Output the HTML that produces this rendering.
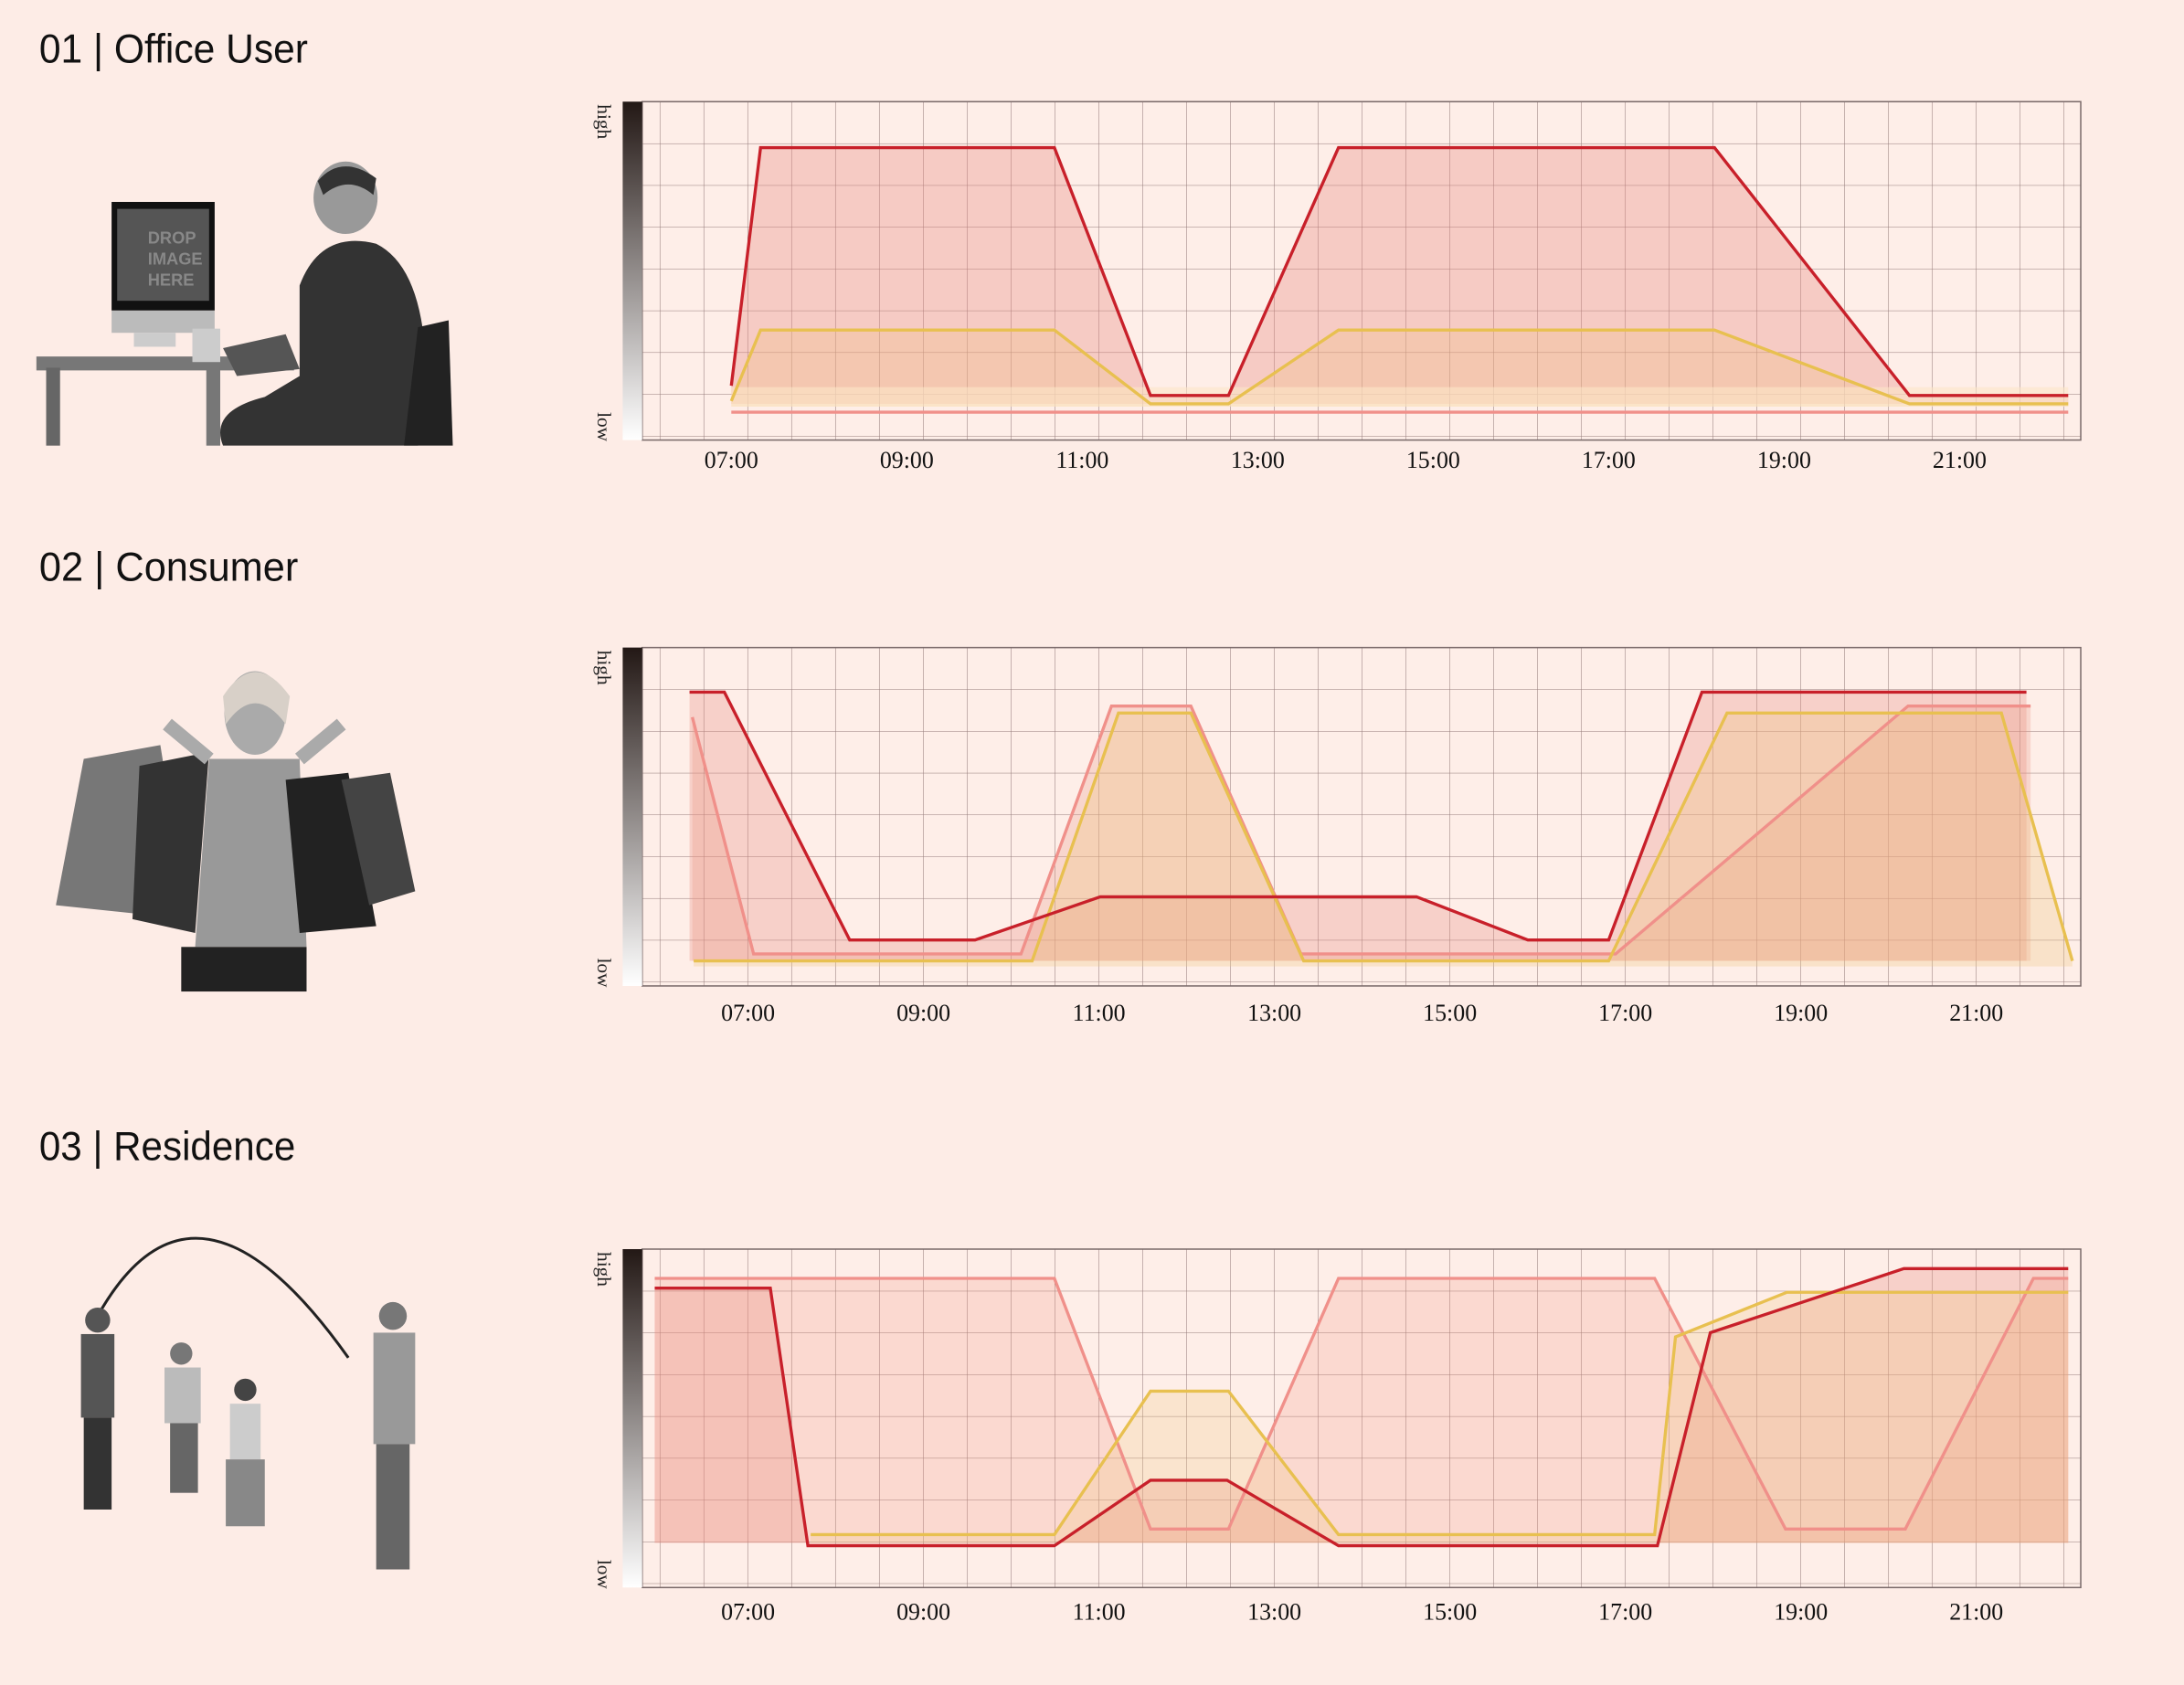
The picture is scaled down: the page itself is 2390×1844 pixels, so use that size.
<!DOCTYPE html>
<html><head><meta charset="utf-8"><style>
html,body{margin:0;padding:0;background:#fdece6;}
svg{display:block}
.t{font-family:"Liberation Sans Narrow","Liberation Sans",sans-serif;font-size:29px;fill:#111}
.tk{font-family:"Liberation Serif",serif;font-size:17px;fill:#111;text-anchor:middle}
.hl{font-family:"Liberation Serif",serif;font-size:14px;fill:#222}
</style></head><body>
<svg width="2390" height="1844" viewBox="0 0 1568 1210" xmlns="http://www.w3.org/2000/svg">
<defs>
<linearGradient id="gb" x1="0" y1="0" x2="0" y2="1"><stop offset="0" stop-color="#231815"/><stop offset="1" stop-color="#ffffff"/></linearGradient>
<pattern id="g1" patternUnits="userSpaceOnUse" x="473.6" y="73" width="31.5" height="30"><path d="M0 0V30M0 0H31.5" stroke="#7a5f5f" stroke-width="0.7" fill="none" opacity="0.8"/></pattern>
<pattern id="g2" patternUnits="userSpaceOnUse" x="473.6" y="465" width="31.5" height="30"><path d="M0 0V30M0 0H31.5" stroke="#7a5f5f" stroke-width="0.7" fill="none" opacity="0.8"/></pattern>
<pattern id="g3" patternUnits="userSpaceOnUse" x="473.6" y="897" width="31.5" height="30"><path d="M0 0V30M0 0H31.5" stroke="#7a5f5f" stroke-width="0.7" fill="none" opacity="0.8"/></pattern>
</defs>
<rect width="1568" height="1210" fill="#fdece6"/>

<text class="t" x="28" y="45" textLength="193" lengthAdjust="spacingAndGlyphs">01 | Office User</text>
<text class="t" x="28" y="417" textLength="186" lengthAdjust="spacingAndGlyphs">02 | Consumer</text>
<text class="t" x="28" y="833" textLength="184" lengthAdjust="spacingAndGlyphs">03 | Residence</text>

<!-- photo 1 -->
<g>
<rect x="26" y="256" width="185" height="10" fill="#777"/>
<rect x="33" y="264" width="10" height="56" fill="#666"/><rect x="148" y="264" width="10" height="56" fill="#777"/>
<rect x="80" y="145" width="74" height="78" fill="#111"/><rect x="84" y="150" width="66" height="66" fill="#555"/>
<rect x="80" y="223" width="74" height="16" fill="#bbb"/><rect x="96" y="239" width="30" height="10" fill="#ccc"/>
<text x="106" y="175" font-family="Liberation Sans" font-size="12" fill="#888" font-weight="bold">DROP</text>
<text x="106" y="190" font-family="Liberation Sans" font-size="12" fill="#888" font-weight="bold">IMAGE</text>
<text x="106" y="205" font-family="Liberation Sans" font-size="12" fill="#888" font-weight="bold">HERE</text>
<rect x="138" y="236" width="20" height="24" fill="#ccc"/>
<ellipse cx="248" cy="142" rx="23" ry="26" fill="#999"/><path d="M228 130 Q245 110 270 128 L268 140 Q250 125 232 140Z" fill="#333"/>
<path d="M215 205 Q230 165 270 175 Q300 190 305 250 L300 320 L160 320 Q150 295 190 285 L215 270 Z" fill="#333"/>
<path d="M300 235 L322 230 L325 320 L290 320Z" fill="#222"/>
<path d="M160 250 L205 240 L215 265 L170 270Z" fill="#555"/>
</g>
<!-- photo 2 -->
<g>
<ellipse cx="183" cy="512" rx="22" ry="30" fill="#aaa"/><path d="M160 500 Q183 465 208 500 L205 520 Q183 490 162 520Z" fill="#d8d0c8"/>
<path d="M150 545 L215 545 L220 680 L140 680Z" fill="#999"/>
<rect x="130" y="680" width="90" height="32" fill="#222"/>
<path d="M60 545 L115 535 L135 660 L40 650Z" fill="#777"/>
<path d="M100 550 L150 540 L140 670 L95 660Z" fill="#333"/>
<path d="M205 560 L250 555 L270 665 L215 670Z" fill="#222"/>
<path d="M245 560 L280 555 L298 640 L265 650Z" fill="#444"/>
<path d="M120 520 L150 545 M245 520 L215 545" stroke="#aaa" stroke-width="10"/>
</g>
<!-- photo 3 -->
<g>
<path d="M70 945 Q140 820 250 975" stroke="#222" stroke-width="2" fill="none"/>
<circle cx="70" cy="948" r="9" fill="#555"/><rect x="58" y="958" width="24" height="60" fill="#555"/><rect x="60" y="1018" width="20" height="66" fill="#333"/>
<circle cx="130" cy="972" r="8" fill="#777"/><rect x="118" y="982" width="26" height="40" fill="#bbb"/><rect x="122" y="1022" width="20" height="50" fill="#666"/>
<circle cx="176" cy="998" r="8" fill="#444"/><rect x="165" y="1008" width="22" height="40" fill="#ccc"/><rect x="162" y="1048" width="28" height="48" fill="#888"/>
<circle cx="282" cy="945" r="10" fill="#777"/><rect x="268" y="957" width="30" height="80" fill="#999"/><rect x="270" y="1037" width="24" height="90" fill="#666"/>
</g>

<!-- CHART 1 -->
<g>
<rect x="461" y="73" width="1033" height="243" fill="#feeee8"/>
<rect x="461" y="73" width="1033" height="243" fill="url(#g1)"/>
<rect x="461" y="73" width="1033" height="243" fill="none" stroke="#7a6a6a" stroke-width="1"/>
<rect x="447" y="73" width="14" height="243" fill="url(#gb)"/>
<text class="hl" transform="translate(429,75) rotate(90)">high</text>
<text class="hl" transform="translate(429,296) rotate(90)">low</text>
<polygon points="525,277 546,106 757,106 826,284 882,284 961,106 1231,106 1371,284 1485,284 1485,290 525,290" fill="#e88a80" fill-opacity="0.35"/>
<polygon points="525,288 546,237 757,237 826,290 882,290 961,237 1231,237 1371,290 1485,290 1485,292 525,292" fill="#f0c080" fill-opacity="0.3"/>
<rect x="525" y="278" width="960" height="14" fill="#fbe6c8" fill-opacity="0.6"/>
<polyline points="525,296 1485,296" stroke="#f0908a" stroke-width="2.2" fill="none"/>
<polyline points="525,288 546,237 757,237 826,290 882,290 961,237 1231,237 1371,290 1485,290" stroke="#e8c050" stroke-width="2.2" fill="none"/>
<polyline points="525,277 546,106 757,106 826,284 882,284 961,106 1231,106 1371,284 1485,284" stroke="#c8202a" stroke-width="2.2" fill="none"/>
<text class="tk" x="525" y="336">07:00</text><text class="tk" x="651" y="336">09:00</text><text class="tk" x="777" y="336">11:00</text><text class="tk" x="903" y="336">13:00</text><text class="tk" x="1029" y="336">15:00</text><text class="tk" x="1155" y="336">17:00</text><text class="tk" x="1281" y="336">19:00</text><text class="tk" x="1407" y="336">21:00</text>
</g>

<!-- CHART 2 -->
<g>
<rect x="461" y="465" width="1033" height="243" fill="#feeee8"/>
<rect x="461" y="465" width="1033" height="243" fill="url(#g2)"/>
<rect x="461" y="465" width="1033" height="243" fill="none" stroke="#7a6a6a" stroke-width="1"/>
<rect x="447" y="465" width="14" height="243" fill="url(#gb)"/>
<text class="hl" transform="translate(429,467) rotate(90)">high</text>
<text class="hl" transform="translate(429,688) rotate(90)">low</text>
<polygon points="495,497 520,497 610,675 700,675 790,644 1017,644 1097,675 1155,675 1222,497 1455,497 1455,690 495,690" fill="#e88a80" fill-opacity="0.3"/>
<polygon points="497,515 541,685 733,685 798,507 855,507 934,685 1160,685 1370,507 1458,507 1458,690 497,690" fill="#e8907a" fill-opacity="0.25"/>
<polygon points="498,690 741,690 803,512 855,512 936,690 1155,690 1240,512 1437,512 1488,690 1488,694 498,694" fill="#f0c880" fill-opacity="0.3"/>
<polyline points="497,515 541,685 733,685 798,507 855,507 934,685 1160,685 1370,507 1458,507" stroke="#f0908a" stroke-width="2.2" fill="none"/>
<polyline points="498,690 741,690 803,512 855,512 936,690 1155,690 1240,512 1437,512 1488,690" stroke="#e8c050" stroke-width="2.2" fill="none"/>
<polyline points="495,497 520,497 610,675 700,675 790,644 1017,644 1097,675 1155,675 1222,497 1455,497" stroke="#c8202a" stroke-width="2.2" fill="none"/>
<text class="tk" x="537" y="733">07:00</text><text class="tk" x="663" y="733">09:00</text><text class="tk" x="789" y="733">11:00</text><text class="tk" x="915" y="733">13:00</text><text class="tk" x="1041" y="733">15:00</text><text class="tk" x="1167" y="733">17:00</text><text class="tk" x="1293" y="733">19:00</text><text class="tk" x="1419" y="733">21:00</text>
</g>

<!-- CHART 3 -->
<g>
<rect x="461" y="897" width="1033" height="243" fill="#feeee8"/>
<rect x="461" y="897" width="1033" height="243" fill="url(#g3)"/>
<rect x="461" y="897" width="1033" height="243" fill="none" stroke="#7a6a6a" stroke-width="1"/>
<rect x="447" y="897" width="14" height="243" fill="url(#gb)"/>
<text class="hl" transform="translate(429,899) rotate(90)">high</text>
<text class="hl" transform="translate(429,1120) rotate(90)">low</text>
<polygon points="470,925 553,925 580,1110 757,1110 826,1063 881,1063 961,1110 1190,1110 1228,957 1367,911 1485,911 1485,1108 470,1108" fill="#e88a80" fill-opacity="0.3"/>
<polygon points="470,918 757,918 826,1098 882,1098 961,918 1188,918 1282,1098 1368,1098 1460,918 1485,918 1485,1108 470,1108" fill="#f0907a" fill-opacity="0.22"/>
<polygon points="582,1102 757,1102 826,999 882,999 961,1102 1188,1102 1203,960 1283,928 1485,928 1485,1108 582,1108" fill="#f0c880" fill-opacity="0.25"/>
<polyline points="470,918 757,918 826,1098 882,1098 961,918 1188,918 1282,1098 1368,1098 1460,918 1485,918" stroke="#f0908a" stroke-width="2.2" fill="none"/>
<polyline points="582,1102 757,1102 826,999 882,999 961,1102 1188,1102 1203,960 1283,928 1485,928" stroke="#e8c050" stroke-width="2.2" fill="none"/>
<polyline points="470,925 553,925 580,1110 757,1110 826,1063 881,1063 961,1110 1190,1110 1228,957 1367,911 1485,911" stroke="#c8202a" stroke-width="2.2" fill="none"/>
<text class="tk" x="537" y="1163">07:00</text><text class="tk" x="663" y="1163">09:00</text><text class="tk" x="789" y="1163">11:00</text><text class="tk" x="915" y="1163">13:00</text><text class="tk" x="1041" y="1163">15:00</text><text class="tk" x="1167" y="1163">17:00</text><text class="tk" x="1293" y="1163">19:00</text><text class="tk" x="1419" y="1163">21:00</text>
</g>
</svg>
</body></html>
